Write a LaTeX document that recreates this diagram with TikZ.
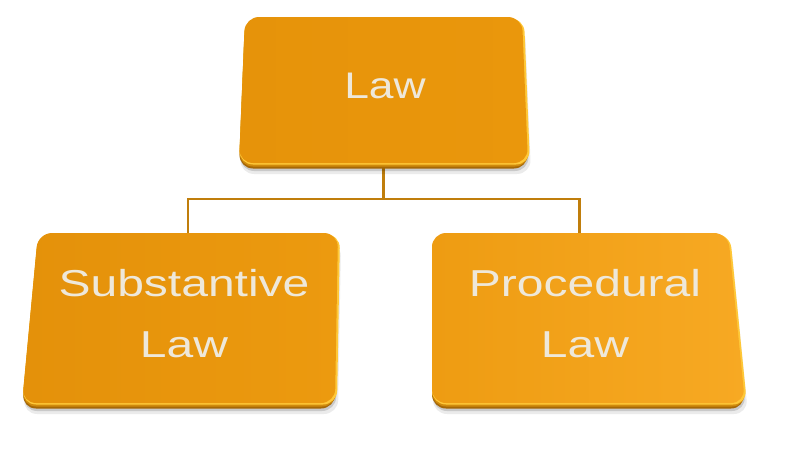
\documentclass[tikz,border=0pt]{standalone}
\usepackage{fontspec}
\setmainfont{Liberation Sans}
\newfontfamily\topfont[FakeStretch=1.2]{Liberation Sans}
\newfontfamily\subfont[FakeStretch=1.28]{Liberation Sans}
\usetikzlibrary{calc}
\definecolor{rimc}{HTML}{A66806}
\definecolor{rimm}{HTML}{D08A0C}
\definecolor{wirec}{HTML}{C07E0C}
\definecolor{txtc}{HTML}{EEE8DA}
\definecolor{hlc}{HTML}{FFC838}
\definecolor{lawA}{HTML}{E6930A}
\definecolor{lawB}{HTML}{EA970C}
\definecolor{subA}{HTML}{E4910A}
\definecolor{subB}{HTML}{EC9A0F}
\definecolor{procA}{HTML}{EE9C12}
\definecolor{procB}{HTML}{F7A923}
% #1 TLx, #2 TRx, #3 BRx, #4 BLx, #5 top y, #6 bottom y (face), #7 left colour, #8 right colour
\newcommand\bevelface[8]{%
  \fill[black,opacity=0.08,rounded corners=14] (#1+1,#5+9) -- (#2+3,#5+9) -- (#3+3,#6+11) -- (#4+1,#6+11) -- cycle;
  \fill[black,opacity=0.14,rounded corners=14] (#1+1,#5+7) -- (#2+1,#5+7) -- (#3+1,#6+8) -- (#4+1,#6+8) -- cycle;
  \fill[rimc,rounded corners=14] (#1,#5+5) -- (#2,#5+5) -- (#3,#6+5.5) -- (#4,#6+5.5) -- cycle;
  \fill[rimm,rounded corners=14] (#1,#5+3) -- (#2+1,#5+3) -- (#3+1,#6+3.5) -- (#4,#6+3.5) -- cycle;
  \fill[hlc,rounded corners=14] (#1,#5+1) -- (#2+2,#5+1) -- (#3+2,#6+1.5) -- (#4,#6+1.5) -- cycle;
  \shade[left color=#7,right color=#8,rounded corners=14] (#1,#5) -- (#2,#5) -- (#3,#6) -- (#4,#6) -- cycle;
}
\begin{document}
\begin{tikzpicture}[x=1pt,y=-1pt,
  boxnode/.style={rectangle,draw=none,inner sep=0pt},
  lbl/.style={text=txtc,align=center,inner sep=0pt},
  wire/.style={draw=wirec,line width=2.4pt}]
\useasboundingbox[fill=white] (0,0) rectangle (788,455);
% invisible box nodes
\node[boxnode,minimum width=289pt,minimum height=151pt] (lawbox) at (383.5,92.5) {};
\node[boxnode,minimum width=316pt,minimum height=175pt] (subbox) at (180,320.5) {};
\node[boxnode,minimum width=313pt,minimum height=175pt] (procbox) at (588.5,320.5) {};
% connectors
\draw[wire] (lawbox.south) -- ++(0,31) -| ($(subbox.north)+(8,0)$);
\draw[wire] (lawbox.south) -- ++(0,31) -| ($(procbox.north)+(-9,0)$);
% boxes
\bevelface{245}{522}{528}{239}{17}{163}{lawA}{lawB}
\bevelface{38}{338}{335}{22}{233}{403}{subA}{subB}
\bevelface{432}{728}{745}{432}{233}{403}{procA}{procB}
% texts
\node[lbl,font=\topfont\fontsize{37}{44}\selectfont] (lawtxt) at (385,85.7) {Law};
\node[lbl,font=\subfont\fontsize{37.5}{61}\selectfont] (subtxt) at (184,314) {Substantive\\Law};
\node[lbl,font=\subfont\fontsize{37.5}{61}\selectfont] (proctxt) at (585,314) {Procedural\\Law};
\end{tikzpicture}
\end{document}
